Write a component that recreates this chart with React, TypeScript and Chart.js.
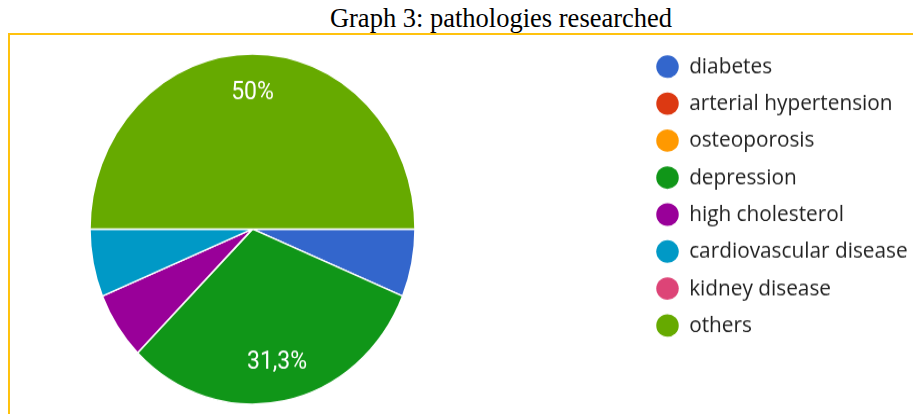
import React, { useEffect, useRef } from "react";
import { Chart, registerables } from "chart.js";

Chart.register(...registerables);

const titleText = "Graph 3: pathologies researched";
const categories = [
  "diabetes",
  "arterial hypertension",
  "osteoporosis",
  "depression",
  "high cholesterol",
  "cardiovascular disease",
  "kidney disease",
  "others",
];
const shares = [6.25, 0, 0, 31.25, 6.25, 6.25, 0, 50];
const colors = ["#3366CC", "#DC3912", "#FF9900", "#109618", "#990099", "#0099C6", "#DD4477", "#66AA00"];

const CANVAS_W = 913;
const CANVAS_H = 384;
const SHOWN_H = 414;
const LEGEND_FONT = 20.8;
const ROW_STEP = 34.3;

const placement = {
  id: "placement",
  afterLayout(chart: any) {
    const cx = 252.5;
    const cy = 212.4;
    const r = 162.5;
    chart.chartArea = { left: cx - r, top: cy - r, right: cx + r, bottom: cy + r, width: 2 * r, height: 2 * r };
    const lg = chart.legend;
    if (lg) {
      const p = lg.options.labels.padding;
      const w = lg.width;
      const h = lg.height;
      lg.left = 656.25 - p;
      lg.top = 61.8 - LEGEND_FONT / 2 - p;
      lg.right = lg.left + w;
      lg.bottom = lg.top + h;
    }
  },
};

const sliceLabels = {
  id: "sliceLabels",
  afterDatasetsDraw(chart: any) {
    const meta = chart.getDatasetMeta(0);
    const data = chart.data.datasets[0].data as number[];
    const total = data.reduce((a, b) => a + b, 0);
    const ctx = chart.ctx;
    ctx.save();
    ctx.fillStyle = "#ffffff";
    ctx.font = "23px Roboto";
    ctx.textAlign = "center";
    ctx.textBaseline = "middle";
    meta.data.forEach((arc: any, i: number) => {
      const pct = (data[i] / total) * 100;
      if (pct < 10) return;
      const { x, y, startAngle, endAngle, outerRadius } = arc.getProps(
        ["x", "y", "startAngle", "endAngle", "outerRadius"],
        true
      );
      const mid = (startAngle + endAngle) / 2;
      const rr = outerRadius * 0.775;
      const txt = (Math.round(pct * 10) / 10).toString().replace(".", ",") + "%";
      ctx.fillText(txt, x + Math.cos(mid) * rr, y + Math.sin(mid) * rr);
    });
    ctx.restore();
  },
};

export default function App() {
  const ref = useRef<HTMLCanvasElement>(null);

  useEffect(() => {
    if (!ref.current) return;
    const chart = new Chart(ref.current, {
      type: "pie",
      data: {
        labels: categories,
        datasets: [
          {
            data: shares,
            backgroundColor: colors,
            borderColor: "#ffffff",
            borderWidth: 1.5,
          },
        ],
      },
      options: {
        responsive: false,
        animation: false,
        rotation: 90,
        radius: 162.5,
        plugins: {
          tooltip: { enabled: false },
          legend: {
            position: "right",
            align: "start",
            labels: {
              usePointStyle: true,
              pointStyle: "circle",
              pointStyleWidth: 22.5,
              boxHeight: 14.8,
              padding: ROW_STEP - LEGEND_FONT,
              color: "#222222",
              font: { family: "'Open Sans'", size: LEGEND_FONT },
              generateLabels(chart: any) {
                const base = (Chart as any).overrides.pie.plugins.legend.labels.generateLabels(chart);
                return base.map((it: any) => ({ ...it, lineWidth: 0, strokeStyle: it.fillStyle }));
              },
            },
          },
        },
      },
      plugins: [placement, sliceLabels],
    } as any);
    return () => chart.destroy();
  }, []);

  return (
    <div
      style={{
        position: "absolute",
        left: 0,
        top: 0,
        width: CANVAS_W,
        height: SHOWN_H,
        overflow: "hidden",
        background: "#ffffff",
      }}
    >
      <div
        style={{
          position: "absolute",
          left: 0,
          top: 2.5,
          width: 1002,
          textAlign: "center",
          fontFamily: '"Liberation Serif", "Times New Roman", serif',
          fontSize: 26.5,
          color: "#000000",
          whiteSpace: "nowrap",
        }}
      >
        {titleText}
      </div>
      <div
        style={{
          position: "absolute",
          left: 8,
          top: 33,
          width: 1000,
          height: 500,
          border: "2px solid #FFC20E",
          boxSizing: "border-box",
        }}
      />
      <canvas
        ref={ref}
        width={CANVAS_W}
        height={CANVAS_H}
        style={{ position: "absolute", left: 0, top: 0, width: CANVAS_W, height: SHOWN_H, display: "block" }}
      />
    </div>
  );
}
